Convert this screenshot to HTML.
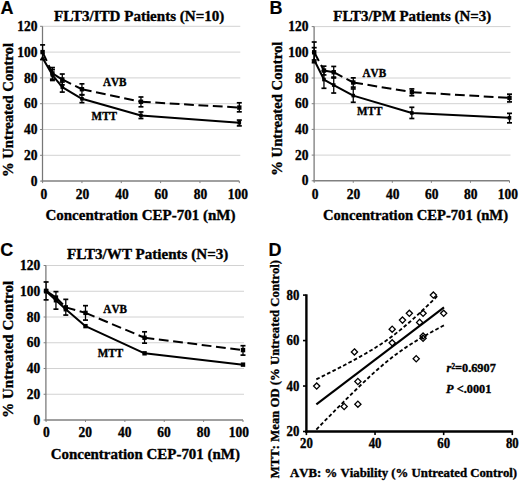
<!DOCTYPE html>
<html><head><meta charset="utf-8"><style>
html,body{margin:0;padding:0;background:#fff;width:520px;height:481px;overflow:hidden;}
svg{display:block;}
text{font-variant-ligatures:none;}
.nk{font-kerning:none;}
</style></head><body>
<svg width="520" height="481" viewBox="0 0 520 481">
<rect width="520" height="481" fill="#fff"/>
<line x1="42.60" y1="155.30" x2="240.30" y2="155.30" stroke="#d2d2d2" stroke-width="1" />
<line x1="42.60" y1="129.50" x2="240.30" y2="129.50" stroke="#d2d2d2" stroke-width="1" />
<line x1="42.60" y1="103.70" x2="240.30" y2="103.70" stroke="#d2d2d2" stroke-width="1" />
<line x1="42.60" y1="77.90" x2="240.30" y2="77.90" stroke="#d2d2d2" stroke-width="1" />
<line x1="42.60" y1="52.10" x2="240.30" y2="52.10" stroke="#d2d2d2" stroke-width="1" />
<line x1="42.60" y1="26.30" x2="240.30" y2="26.30" stroke="#d2d2d2" stroke-width="1" />
<line x1="42.50" y1="26.30" x2="42.50" y2="181.10" stroke="#777" stroke-width="1.25" />
<line x1="41.60" y1="181.10" x2="239.30" y2="181.10" stroke="#808080" stroke-width="1.5" />
<line x1="40.10" y1="181.10" x2="42.60" y2="181.10" stroke="#808080" stroke-width="1" />
<line x1="40.10" y1="155.30" x2="42.60" y2="155.30" stroke="#808080" stroke-width="1" />
<line x1="40.10" y1="129.50" x2="42.60" y2="129.50" stroke="#808080" stroke-width="1" />
<line x1="40.10" y1="103.70" x2="42.60" y2="103.70" stroke="#808080" stroke-width="1" />
<line x1="40.10" y1="77.90" x2="42.60" y2="77.90" stroke="#808080" stroke-width="1" />
<line x1="40.10" y1="52.10" x2="42.60" y2="52.10" stroke="#808080" stroke-width="1" />
<line x1="40.10" y1="26.30" x2="42.60" y2="26.30" stroke="#808080" stroke-width="1" />
<line x1="42.60" y1="181.10" x2="42.60" y2="183.10" stroke="#808080" stroke-width="1" />
<line x1="81.94" y1="181.10" x2="81.94" y2="183.10" stroke="#808080" stroke-width="1" />
<line x1="121.28" y1="181.10" x2="121.28" y2="183.10" stroke="#808080" stroke-width="1" />
<line x1="160.62" y1="181.10" x2="160.62" y2="183.10" stroke="#808080" stroke-width="1" />
<line x1="199.96" y1="181.10" x2="199.96" y2="183.10" stroke="#808080" stroke-width="1" />
<line x1="239.30" y1="181.10" x2="239.30" y2="183.10" stroke="#808080" stroke-width="1" />
<text transform="translate(37.60,185.70) scale(1.0,1.08)" font-family='"Liberation Serif", serif' font-size="13.5" font-weight="bold" font-style="normal" text-anchor="end" stroke="#000" stroke-width="0.35" >0</text>
<text transform="translate(37.60,159.90) scale(1.0,1.08)" font-family='"Liberation Serif", serif' font-size="13.5" font-weight="bold" font-style="normal" text-anchor="end" stroke="#000" stroke-width="0.35" >20</text>
<text transform="translate(37.60,134.10) scale(1.0,1.08)" font-family='"Liberation Serif", serif' font-size="13.5" font-weight="bold" font-style="normal" text-anchor="end" stroke="#000" stroke-width="0.35" >40</text>
<text transform="translate(37.60,108.30) scale(1.0,1.08)" font-family='"Liberation Serif", serif' font-size="13.5" font-weight="bold" font-style="normal" text-anchor="end" stroke="#000" stroke-width="0.35" >60</text>
<text transform="translate(37.60,82.50) scale(1.0,1.08)" font-family='"Liberation Serif", serif' font-size="13.5" font-weight="bold" font-style="normal" text-anchor="end" stroke="#000" stroke-width="0.35" >80</text>
<text transform="translate(37.60,56.70) scale(1.0,1.08)" font-family='"Liberation Serif", serif' font-size="13.5" font-weight="bold" font-style="normal" text-anchor="end" stroke="#000" stroke-width="0.35" >100</text>
<text transform="translate(37.60,30.90) scale(1.0,1.08)" font-family='"Liberation Serif", serif' font-size="13.5" font-weight="bold" font-style="normal" text-anchor="end" stroke="#000" stroke-width="0.35" >120</text>
<text transform="translate(43.80,199.10) scale(1.0,1.08)" font-family='"Liberation Serif", serif' font-size="13.5" font-weight="bold" font-style="normal" text-anchor="middle" stroke="#000" stroke-width="0.35" >0</text>
<text transform="translate(82.54,199.10) scale(1.0,1.08)" font-family='"Liberation Serif", serif' font-size="13.5" font-weight="bold" font-style="normal" text-anchor="middle" stroke="#000" stroke-width="0.35" >20</text>
<text transform="translate(121.88,199.10) scale(1.0,1.08)" font-family='"Liberation Serif", serif' font-size="13.5" font-weight="bold" font-style="normal" text-anchor="middle" stroke="#000" stroke-width="0.35" >40</text>
<text transform="translate(161.22,199.10) scale(1.0,1.08)" font-family='"Liberation Serif", serif' font-size="13.5" font-weight="bold" font-style="normal" text-anchor="middle" stroke="#000" stroke-width="0.35" >60</text>
<text transform="translate(200.56,199.10) scale(1.0,1.08)" font-family='"Liberation Serif", serif' font-size="13.5" font-weight="bold" font-style="normal" text-anchor="middle" stroke="#000" stroke-width="0.35" >80</text>
<text transform="translate(237.90,199.10) scale(1.0,1.08)" font-family='"Liberation Serif", serif' font-size="13.5" font-weight="bold" font-style="normal" text-anchor="middle" stroke="#000" stroke-width="0.35" >100</text>
<text transform="translate(54.10,20.60) scale(1.0,1.0)" font-family='"Liberation Serif", serif' font-size="15.05" font-weight="bold" font-style="normal" text-anchor="start" stroke="#000" stroke-width="0.35" >FLT3/ITD Patients (N=10)</text>
<text transform="translate(45.40,219.80) scale(1.0,1.0)" font-family='"Liberation Serif", serif' font-size="15" font-weight="bold" font-style="normal" text-anchor="start" stroke="#000" stroke-width="0.35" >Concentration CEP-701 (nM)</text>
<text transform="translate(12.50,177.10) rotate(-90) scale(1.0,0.95)" font-family='"Liberation Serif", serif' font-size="14.7" font-weight="bold" font-style="normal" text-anchor="start" stroke="#000" stroke-width="0.35" >% Untreated Control</text>
<text transform="translate(0.50,14.20) scale(1.0,1.03)" font-family='"Liberation Sans", sans-serif' font-size="18" font-weight="bold" font-style="normal" text-anchor="start" stroke="#000" stroke-width="0.15" >A</text>
<polyline points="42.60,57.91 52.44,75.06 62.27,87.06 81.94,98.80 140.95,115.44 239.30,122.79" fill="none" stroke="#000" stroke-width="2" stroke-linejoin="round" />
<line x1="42.60" y1="52.10" x2="52.44" y2="73.39" stroke="#000" stroke-width="2" stroke-dasharray="9.8 4.6"/>
<line x1="52.44" y1="73.39" x2="62.27" y2="79.45" stroke="#000" stroke-width="2" stroke-dasharray="9.8 4.6"/>
<line x1="62.27" y1="79.45" x2="81.94" y2="89.25" stroke="#000" stroke-width="2" stroke-dasharray="9.8 4.6"/>
<line x1="81.94" y1="89.25" x2="140.95" y2="101.77" stroke="#000" stroke-width="2" stroke-dasharray="9.8 4.6"/>
<line x1="140.95" y1="101.77" x2="239.30" y2="107.57" stroke="#000" stroke-width="2" stroke-dasharray="9.8 4.6"/>
<line x1="42.60" y1="44.88" x2="42.60" y2="59.58" stroke="#000" stroke-width="1.3" />
<line x1="40.10" y1="44.88" x2="45.10" y2="44.88" stroke="#000" stroke-width="1.7" />
<line x1="40.10" y1="59.58" x2="45.10" y2="59.58" stroke="#000" stroke-width="1.7" />
<line x1="52.44" y1="67.58" x2="52.44" y2="79.19" stroke="#000" stroke-width="1.3" />
<line x1="49.94" y1="67.58" x2="54.94" y2="67.58" stroke="#000" stroke-width="1.7" />
<line x1="49.94" y1="79.19" x2="54.94" y2="79.19" stroke="#000" stroke-width="1.7" />
<line x1="62.27" y1="74.03" x2="62.27" y2="84.87" stroke="#000" stroke-width="1.3" />
<line x1="59.77" y1="74.03" x2="64.77" y2="74.03" stroke="#000" stroke-width="1.7" />
<line x1="59.77" y1="84.87" x2="64.77" y2="84.87" stroke="#000" stroke-width="1.7" />
<line x1="81.94" y1="83.83" x2="81.94" y2="94.67" stroke="#000" stroke-width="1.3" />
<line x1="79.44" y1="83.83" x2="84.44" y2="83.83" stroke="#000" stroke-width="1.7" />
<line x1="79.44" y1="94.67" x2="84.44" y2="94.67" stroke="#000" stroke-width="1.7" />
<line x1="140.95" y1="96.99" x2="140.95" y2="106.80" stroke="#000" stroke-width="1.3" />
<line x1="138.45" y1="96.99" x2="143.45" y2="96.99" stroke="#000" stroke-width="1.7" />
<line x1="138.45" y1="106.80" x2="143.45" y2="106.80" stroke="#000" stroke-width="1.7" />
<line x1="239.30" y1="102.80" x2="239.30" y2="111.83" stroke="#000" stroke-width="1.3" />
<line x1="236.80" y1="102.80" x2="241.80" y2="102.80" stroke="#000" stroke-width="1.7" />
<line x1="236.80" y1="111.83" x2="241.80" y2="111.83" stroke="#000" stroke-width="1.7" />
<line x1="52.44" y1="69.64" x2="52.44" y2="80.48" stroke="#000" stroke-width="1.3" />
<line x1="49.94" y1="69.64" x2="54.94" y2="69.64" stroke="#000" stroke-width="1.7" />
<line x1="49.94" y1="80.48" x2="54.94" y2="80.48" stroke="#000" stroke-width="1.7" />
<line x1="62.27" y1="82.03" x2="62.27" y2="92.09" stroke="#000" stroke-width="1.3" />
<line x1="59.77" y1="82.03" x2="64.77" y2="82.03" stroke="#000" stroke-width="1.7" />
<line x1="59.77" y1="92.09" x2="64.77" y2="92.09" stroke="#000" stroke-width="1.7" />
<line x1="81.94" y1="94.93" x2="81.94" y2="102.67" stroke="#000" stroke-width="1.3" />
<line x1="79.44" y1="94.93" x2="84.44" y2="94.93" stroke="#000" stroke-width="1.7" />
<line x1="79.44" y1="102.67" x2="84.44" y2="102.67" stroke="#000" stroke-width="1.7" />
<line x1="140.95" y1="111.96" x2="140.95" y2="118.53" stroke="#000" stroke-width="1.3" />
<line x1="138.45" y1="111.96" x2="143.45" y2="111.96" stroke="#000" stroke-width="1.7" />
<line x1="138.45" y1="118.53" x2="143.45" y2="118.53" stroke="#000" stroke-width="1.7" />
<line x1="239.30" y1="120.08" x2="239.30" y2="125.89" stroke="#000" stroke-width="1.3" />
<line x1="236.80" y1="120.08" x2="241.80" y2="120.08" stroke="#000" stroke-width="1.7" />
<line x1="236.80" y1="125.89" x2="241.80" y2="125.89" stroke="#000" stroke-width="1.7" />
<rect x="40.40" y="49.90" width="4.4" height="4.4" fill="#000"/>
<rect x="50.23" y="71.19" width="4.4" height="4.4" fill="#000"/>
<rect x="60.07" y="77.25" width="4.4" height="4.4" fill="#000"/>
<rect x="79.74" y="87.05" width="4.4" height="4.4" fill="#000"/>
<rect x="138.75" y="99.56" width="4.4" height="4.4" fill="#000"/>
<rect x="237.10" y="105.37" width="4.4" height="4.4" fill="#000"/>
<path d="M42.60,55.31 L45.20,59.91 L40.00,59.91 Z" fill="#000"/>
<rect x="50.64" y="73.26" width="3.6" height="3.6" fill="#000"/>
<rect x="60.47" y="85.26" width="3.6" height="3.6" fill="#000"/>
<rect x="80.14" y="97.00" width="3.6" height="3.6" fill="#000"/>
<rect x="139.15" y="113.64" width="3.6" height="3.6" fill="#000"/>
<rect x="237.50" y="120.99" width="3.6" height="3.6" fill="#000"/>
<text transform="translate(102.90,85.90) scale(1.0,1.08)" font-family='"Liberation Serif", serif' font-size="11.2" font-weight="bold" font-style="normal" text-anchor="start" stroke="#000" stroke-width="0.35"  class="nk">AVB</text>
<text transform="translate(91.60,119.60) scale(1.0,1.08)" font-family='"Liberation Serif", serif' font-size="11.2" font-weight="bold" font-style="normal" text-anchor="start" stroke="#000" stroke-width="0.35"  class="nk">MTT</text>
<line x1="314.20" y1="155.10" x2="510.50" y2="155.10" stroke="#d2d2d2" stroke-width="1" />
<line x1="314.20" y1="129.40" x2="510.50" y2="129.40" stroke="#d2d2d2" stroke-width="1" />
<line x1="314.20" y1="103.70" x2="510.50" y2="103.70" stroke="#d2d2d2" stroke-width="1" />
<line x1="314.20" y1="78.00" x2="510.50" y2="78.00" stroke="#d2d2d2" stroke-width="1" />
<line x1="314.20" y1="52.30" x2="510.50" y2="52.30" stroke="#d2d2d2" stroke-width="1" />
<line x1="314.20" y1="26.60" x2="510.50" y2="26.60" stroke="#d2d2d2" stroke-width="1" />
<line x1="314.10" y1="26.60" x2="314.10" y2="180.80" stroke="#777" stroke-width="1.25" />
<line x1="313.20" y1="180.80" x2="509.50" y2="180.80" stroke="#808080" stroke-width="1.5" />
<line x1="311.70" y1="180.80" x2="314.20" y2="180.80" stroke="#808080" stroke-width="1" />
<line x1="311.70" y1="155.10" x2="314.20" y2="155.10" stroke="#808080" stroke-width="1" />
<line x1="311.70" y1="129.40" x2="314.20" y2="129.40" stroke="#808080" stroke-width="1" />
<line x1="311.70" y1="103.70" x2="314.20" y2="103.70" stroke="#808080" stroke-width="1" />
<line x1="311.70" y1="78.00" x2="314.20" y2="78.00" stroke="#808080" stroke-width="1" />
<line x1="311.70" y1="52.30" x2="314.20" y2="52.30" stroke="#808080" stroke-width="1" />
<line x1="311.70" y1="26.60" x2="314.20" y2="26.60" stroke="#808080" stroke-width="1" />
<line x1="314.20" y1="180.80" x2="314.20" y2="182.80" stroke="#808080" stroke-width="1" />
<line x1="353.26" y1="180.80" x2="353.26" y2="182.80" stroke="#808080" stroke-width="1" />
<line x1="392.32" y1="180.80" x2="392.32" y2="182.80" stroke="#808080" stroke-width="1" />
<line x1="431.38" y1="180.80" x2="431.38" y2="182.80" stroke="#808080" stroke-width="1" />
<line x1="470.44" y1="180.80" x2="470.44" y2="182.80" stroke="#808080" stroke-width="1" />
<line x1="509.50" y1="180.80" x2="509.50" y2="182.80" stroke="#808080" stroke-width="1" />
<text transform="translate(308.50,185.40) scale(1.0,1.08)" font-family='"Liberation Serif", serif' font-size="13.5" font-weight="bold" font-style="normal" text-anchor="end" stroke="#000" stroke-width="0.35" >0</text>
<text transform="translate(308.50,159.70) scale(1.0,1.08)" font-family='"Liberation Serif", serif' font-size="13.5" font-weight="bold" font-style="normal" text-anchor="end" stroke="#000" stroke-width="0.35" >20</text>
<text transform="translate(308.50,134.00) scale(1.0,1.08)" font-family='"Liberation Serif", serif' font-size="13.5" font-weight="bold" font-style="normal" text-anchor="end" stroke="#000" stroke-width="0.35" >40</text>
<text transform="translate(308.50,108.30) scale(1.0,1.08)" font-family='"Liberation Serif", serif' font-size="13.5" font-weight="bold" font-style="normal" text-anchor="end" stroke="#000" stroke-width="0.35" >60</text>
<text transform="translate(308.50,82.60) scale(1.0,1.08)" font-family='"Liberation Serif", serif' font-size="13.5" font-weight="bold" font-style="normal" text-anchor="end" stroke="#000" stroke-width="0.35" >80</text>
<text transform="translate(308.50,56.90) scale(1.0,1.08)" font-family='"Liberation Serif", serif' font-size="13.5" font-weight="bold" font-style="normal" text-anchor="end" stroke="#000" stroke-width="0.35" >100</text>
<text transform="translate(308.50,31.20) scale(1.0,1.08)" font-family='"Liberation Serif", serif' font-size="13.5" font-weight="bold" font-style="normal" text-anchor="end" stroke="#000" stroke-width="0.35" >120</text>
<text transform="translate(315.10,199.20) scale(1.0,1.08)" font-family='"Liberation Serif", serif' font-size="13.5" font-weight="bold" font-style="normal" text-anchor="middle" stroke="#000" stroke-width="0.35" >0</text>
<text transform="translate(353.56,199.20) scale(1.0,1.08)" font-family='"Liberation Serif", serif' font-size="13.5" font-weight="bold" font-style="normal" text-anchor="middle" stroke="#000" stroke-width="0.35" >20</text>
<text transform="translate(392.62,199.20) scale(1.0,1.08)" font-family='"Liberation Serif", serif' font-size="13.5" font-weight="bold" font-style="normal" text-anchor="middle" stroke="#000" stroke-width="0.35" >40</text>
<text transform="translate(431.68,199.20) scale(1.0,1.08)" font-family='"Liberation Serif", serif' font-size="13.5" font-weight="bold" font-style="normal" text-anchor="middle" stroke="#000" stroke-width="0.35" >60</text>
<text transform="translate(470.74,199.20) scale(1.0,1.08)" font-family='"Liberation Serif", serif' font-size="13.5" font-weight="bold" font-style="normal" text-anchor="middle" stroke="#000" stroke-width="0.35" >80</text>
<text transform="translate(507.90,199.20) scale(1.0,1.08)" font-family='"Liberation Serif", serif' font-size="13.5" font-weight="bold" font-style="normal" text-anchor="middle" stroke="#000" stroke-width="0.35" >100</text>
<text transform="translate(333.30,20.60) scale(1.0,1.0)" font-family='"Liberation Serif", serif' font-size="14.93" font-weight="bold" font-style="normal" text-anchor="start" stroke="#000" stroke-width="0.35" >FLT3/PM Patients (N=3)</text>
<text transform="translate(323.00,219.90) scale(1.0,1.0)" font-family='"Liberation Serif", serif' font-size="14.61" font-weight="bold" font-style="normal" text-anchor="start" stroke="#000" stroke-width="0.35" >Concentration CEP-701 (nM)</text>
<text transform="translate(282.40,175.80) rotate(-90) scale(1.0,0.95)" font-family='"Liberation Serif", serif' font-size="14.7" font-weight="bold" font-style="normal" text-anchor="start" stroke="#000" stroke-width="0.35" >% Untreated Control</text>
<text transform="translate(269.40,14.20) scale(1.0,1.03)" font-family='"Liberation Sans", sans-serif' font-size="18" font-weight="bold" font-style="normal" text-anchor="start" stroke="#000" stroke-width="0.15" >B</text>
<polyline points="314.20,60.01 323.96,79.54 333.73,85.07 353.26,95.60 411.85,112.95 509.50,117.84" fill="none" stroke="#000" stroke-width="2" stroke-linejoin="round" />
<line x1="314.20" y1="52.30" x2="323.96" y2="70.55" stroke="#000" stroke-width="2" stroke-dasharray="9.8 4.6"/>
<line x1="323.96" y1="70.55" x2="333.73" y2="72.22" stroke="#000" stroke-width="2" stroke-dasharray="9.8 4.6"/>
<line x1="333.73" y1="72.22" x2="353.26" y2="82.50" stroke="#000" stroke-width="2" stroke-dasharray="9.8 4.6"/>
<line x1="353.26" y1="82.50" x2="411.85" y2="92.14" stroke="#000" stroke-width="2" stroke-dasharray="9.8 4.6"/>
<line x1="411.85" y1="92.14" x2="509.50" y2="97.92" stroke="#000" stroke-width="2" stroke-dasharray="9.8 4.6"/>
<line x1="314.20" y1="42.02" x2="314.20" y2="62.71" stroke="#000" stroke-width="1.3" />
<line x1="311.70" y1="42.02" x2="316.70" y2="42.02" stroke="#000" stroke-width="1.7" />
<line x1="311.70" y1="62.71" x2="316.70" y2="62.71" stroke="#000" stroke-width="1.7" />
<line x1="323.96" y1="66.18" x2="323.96" y2="74.92" stroke="#000" stroke-width="1.3" />
<line x1="321.46" y1="66.18" x2="326.46" y2="66.18" stroke="#000" stroke-width="1.7" />
<line x1="321.46" y1="74.92" x2="326.46" y2="74.92" stroke="#000" stroke-width="1.7" />
<line x1="333.73" y1="66.44" x2="333.73" y2="78.00" stroke="#000" stroke-width="1.3" />
<line x1="331.23" y1="66.44" x2="336.23" y2="66.44" stroke="#000" stroke-width="1.7" />
<line x1="331.23" y1="78.00" x2="336.23" y2="78.00" stroke="#000" stroke-width="1.7" />
<line x1="353.26" y1="77.87" x2="353.26" y2="87.12" stroke="#000" stroke-width="1.3" />
<line x1="350.76" y1="77.87" x2="355.76" y2="77.87" stroke="#000" stroke-width="1.7" />
<line x1="350.76" y1="87.12" x2="355.76" y2="87.12" stroke="#000" stroke-width="1.7" />
<line x1="411.85" y1="88.92" x2="411.85" y2="95.73" stroke="#000" stroke-width="1.3" />
<line x1="409.35" y1="88.92" x2="414.35" y2="88.92" stroke="#000" stroke-width="1.7" />
<line x1="409.35" y1="95.73" x2="414.35" y2="95.73" stroke="#000" stroke-width="1.7" />
<line x1="509.50" y1="94.19" x2="509.50" y2="101.90" stroke="#000" stroke-width="1.3" />
<line x1="507.00" y1="94.19" x2="512.00" y2="94.19" stroke="#000" stroke-width="1.7" />
<line x1="507.00" y1="101.90" x2="512.00" y2="101.90" stroke="#000" stroke-width="1.7" />
<line x1="314.20" y1="47.67" x2="314.20" y2="60.01" stroke="#000" stroke-width="1.3" />
<line x1="311.70" y1="47.67" x2="316.70" y2="47.67" stroke="#000" stroke-width="1.7" />
<line x1="311.70" y1="60.01" x2="316.70" y2="60.01" stroke="#000" stroke-width="1.7" />
<line x1="323.96" y1="70.80" x2="323.96" y2="88.28" stroke="#000" stroke-width="1.3" />
<line x1="321.46" y1="70.80" x2="326.46" y2="70.80" stroke="#000" stroke-width="1.7" />
<line x1="321.46" y1="88.28" x2="326.46" y2="88.28" stroke="#000" stroke-width="1.7" />
<line x1="333.73" y1="77.10" x2="333.73" y2="93.03" stroke="#000" stroke-width="1.3" />
<line x1="331.23" y1="77.10" x2="336.23" y2="77.10" stroke="#000" stroke-width="1.7" />
<line x1="331.23" y1="93.03" x2="336.23" y2="93.03" stroke="#000" stroke-width="1.7" />
<line x1="353.26" y1="88.92" x2="353.26" y2="102.29" stroke="#000" stroke-width="1.3" />
<line x1="350.76" y1="88.92" x2="355.76" y2="88.92" stroke="#000" stroke-width="1.7" />
<line x1="350.76" y1="102.29" x2="355.76" y2="102.29" stroke="#000" stroke-width="1.7" />
<line x1="411.85" y1="107.30" x2="411.85" y2="118.48" stroke="#000" stroke-width="1.3" />
<line x1="409.35" y1="107.30" x2="414.35" y2="107.30" stroke="#000" stroke-width="1.7" />
<line x1="409.35" y1="118.48" x2="414.35" y2="118.48" stroke="#000" stroke-width="1.7" />
<line x1="509.50" y1="113.34" x2="509.50" y2="122.85" stroke="#000" stroke-width="1.3" />
<line x1="507.00" y1="113.34" x2="512.00" y2="113.34" stroke="#000" stroke-width="1.7" />
<line x1="507.00" y1="122.85" x2="512.00" y2="122.85" stroke="#000" stroke-width="1.7" />
<rect x="312.00" y="50.10" width="4.4" height="4.4" fill="#000"/>
<rect x="321.76" y="68.35" width="4.4" height="4.4" fill="#000"/>
<rect x="331.53" y="70.02" width="4.4" height="4.4" fill="#000"/>
<rect x="351.06" y="80.30" width="4.4" height="4.4" fill="#000"/>
<rect x="409.65" y="89.94" width="4.4" height="4.4" fill="#000"/>
<rect x="507.30" y="95.72" width="4.4" height="4.4" fill="#000"/>
<path d="M314.20,57.41 L316.80,62.01 L311.60,62.01 Z" fill="#000"/>
<rect x="322.16" y="77.74" width="3.6" height="3.6" fill="#000"/>
<rect x="331.93" y="83.27" width="3.6" height="3.6" fill="#000"/>
<rect x="351.46" y="93.80" width="3.6" height="3.6" fill="#000"/>
<rect x="410.05" y="111.15" width="3.6" height="3.6" fill="#000"/>
<rect x="507.70" y="116.04" width="3.6" height="3.6" fill="#000"/>
<text transform="translate(362.50,77.40) scale(1.0,1.08)" font-family='"Liberation Serif", serif' font-size="11.2" font-weight="bold" font-style="normal" text-anchor="start" stroke="#000" stroke-width="0.35"  class="nk">AVB</text>
<text transform="translate(356.90,114.90) scale(1.0,1.08)" font-family='"Liberation Serif", serif' font-size="11.2" font-weight="bold" font-style="normal" text-anchor="start" stroke="#000" stroke-width="0.35"  class="nk">MTT</text>
<line x1="46.10" y1="394.25" x2="244.00" y2="394.25" stroke="#d2d2d2" stroke-width="1" />
<line x1="46.10" y1="368.50" x2="244.00" y2="368.50" stroke="#d2d2d2" stroke-width="1" />
<line x1="46.10" y1="342.75" x2="244.00" y2="342.75" stroke="#d2d2d2" stroke-width="1" />
<line x1="46.10" y1="317.00" x2="244.00" y2="317.00" stroke="#d2d2d2" stroke-width="1" />
<line x1="46.10" y1="291.25" x2="244.00" y2="291.25" stroke="#d2d2d2" stroke-width="1" />
<line x1="46.10" y1="265.50" x2="244.00" y2="265.50" stroke="#d2d2d2" stroke-width="1" />
<line x1="45.90" y1="265.50" x2="45.90" y2="420.00" stroke="#777" stroke-width="1.25" />
<line x1="45.10" y1="420.00" x2="243.00" y2="420.00" stroke="#808080" stroke-width="1.5" />
<line x1="43.60" y1="420.00" x2="46.10" y2="420.00" stroke="#808080" stroke-width="1" />
<line x1="43.60" y1="394.25" x2="46.10" y2="394.25" stroke="#808080" stroke-width="1" />
<line x1="43.60" y1="368.50" x2="46.10" y2="368.50" stroke="#808080" stroke-width="1" />
<line x1="43.60" y1="342.75" x2="46.10" y2="342.75" stroke="#808080" stroke-width="1" />
<line x1="43.60" y1="317.00" x2="46.10" y2="317.00" stroke="#808080" stroke-width="1" />
<line x1="43.60" y1="291.25" x2="46.10" y2="291.25" stroke="#808080" stroke-width="1" />
<line x1="43.60" y1="265.50" x2="46.10" y2="265.50" stroke="#808080" stroke-width="1" />
<line x1="46.10" y1="420.00" x2="46.10" y2="422.00" stroke="#808080" stroke-width="1" />
<line x1="85.48" y1="420.00" x2="85.48" y2="422.00" stroke="#808080" stroke-width="1" />
<line x1="124.86" y1="420.00" x2="124.86" y2="422.00" stroke="#808080" stroke-width="1" />
<line x1="164.24" y1="420.00" x2="164.24" y2="422.00" stroke="#808080" stroke-width="1" />
<line x1="203.62" y1="420.00" x2="203.62" y2="422.00" stroke="#808080" stroke-width="1" />
<line x1="243.00" y1="420.00" x2="243.00" y2="422.00" stroke="#808080" stroke-width="1" />
<text transform="translate(40.20,424.60) scale(1.0,1.08)" font-family='"Liberation Serif", serif' font-size="13.5" font-weight="bold" font-style="normal" text-anchor="end" stroke="#000" stroke-width="0.35" >0</text>
<text transform="translate(40.20,398.85) scale(1.0,1.08)" font-family='"Liberation Serif", serif' font-size="13.5" font-weight="bold" font-style="normal" text-anchor="end" stroke="#000" stroke-width="0.35" >20</text>
<text transform="translate(40.20,373.10) scale(1.0,1.08)" font-family='"Liberation Serif", serif' font-size="13.5" font-weight="bold" font-style="normal" text-anchor="end" stroke="#000" stroke-width="0.35" >40</text>
<text transform="translate(40.20,347.35) scale(1.0,1.08)" font-family='"Liberation Serif", serif' font-size="13.5" font-weight="bold" font-style="normal" text-anchor="end" stroke="#000" stroke-width="0.35" >60</text>
<text transform="translate(40.20,321.60) scale(1.0,1.08)" font-family='"Liberation Serif", serif' font-size="13.5" font-weight="bold" font-style="normal" text-anchor="end" stroke="#000" stroke-width="0.35" >80</text>
<text transform="translate(40.20,295.85) scale(1.0,1.08)" font-family='"Liberation Serif", serif' font-size="13.5" font-weight="bold" font-style="normal" text-anchor="end" stroke="#000" stroke-width="0.35" >100</text>
<text transform="translate(40.20,270.10) scale(1.0,1.08)" font-family='"Liberation Serif", serif' font-size="13.5" font-weight="bold" font-style="normal" text-anchor="end" stroke="#000" stroke-width="0.35" >120</text>
<text transform="translate(46.40,437.20) scale(1.0,1.08)" font-family='"Liberation Serif", serif' font-size="13.5" font-weight="bold" font-style="normal" text-anchor="middle" stroke="#000" stroke-width="0.35" >0</text>
<text transform="translate(85.28,437.20) scale(1.0,1.08)" font-family='"Liberation Serif", serif' font-size="13.5" font-weight="bold" font-style="normal" text-anchor="middle" stroke="#000" stroke-width="0.35" >20</text>
<text transform="translate(124.66,437.20) scale(1.0,1.08)" font-family='"Liberation Serif", serif' font-size="13.5" font-weight="bold" font-style="normal" text-anchor="middle" stroke="#000" stroke-width="0.35" >40</text>
<text transform="translate(164.04,437.20) scale(1.0,1.08)" font-family='"Liberation Serif", serif' font-size="13.5" font-weight="bold" font-style="normal" text-anchor="middle" stroke="#000" stroke-width="0.35" >60</text>
<text transform="translate(203.42,437.20) scale(1.0,1.08)" font-family='"Liberation Serif", serif' font-size="13.5" font-weight="bold" font-style="normal" text-anchor="middle" stroke="#000" stroke-width="0.35" >80</text>
<text transform="translate(238.80,437.20) scale(1.0,1.08)" font-family='"Liberation Serif", serif' font-size="13.5" font-weight="bold" font-style="normal" text-anchor="middle" stroke="#000" stroke-width="0.35" >100</text>
<text transform="translate(67.10,258.70) scale(1.0,1.0)" font-family='"Liberation Serif", serif' font-size="15.1" font-weight="bold" font-style="normal" text-anchor="start" stroke="#000" stroke-width="0.35" >FLT3/WT Patients (N=3)</text>
<text transform="translate(50.70,459.00) scale(1.0,1.0)" font-family='"Liberation Serif", serif' font-size="14.95" font-weight="bold" font-style="normal" text-anchor="start" stroke="#000" stroke-width="0.35" >Concentration CEP-701 (nM)</text>
<text transform="translate(12.80,417.70) rotate(-90) scale(1.0,0.95)" font-family='"Liberation Serif", serif' font-size="15.0" font-weight="bold" font-style="normal" text-anchor="start" stroke="#000" stroke-width="0.35" >% Untreated Control</text>
<text transform="translate(0.30,255.70) scale(1.0,1.03)" font-family='"Liberation Sans", sans-serif' font-size="18" font-weight="bold" font-style="normal" text-anchor="start" stroke="#000" stroke-width="0.15" >C</text>
<polyline points="46.10,291.25 55.95,300.26 65.79,309.27 85.48,326.14 144.55,353.31 243.00,364.64" fill="none" stroke="#000" stroke-width="2" stroke-linejoin="round" />
<line x1="46.10" y1="290.86" x2="55.95" y2="297.56" stroke="#000" stroke-width="2" stroke-dasharray="9.8 4.6"/>
<line x1="55.95" y1="297.56" x2="65.79" y2="307.34" stroke="#000" stroke-width="2" stroke-dasharray="9.8 4.6"/>
<line x1="65.79" y1="307.34" x2="85.48" y2="312.88" stroke="#000" stroke-width="2" stroke-dasharray="9.8 4.6"/>
<line x1="85.48" y1="312.88" x2="144.55" y2="337.73" stroke="#000" stroke-width="2" stroke-dasharray="9.8 4.6"/>
<line x1="144.55" y1="337.73" x2="243.00" y2="350.09" stroke="#000" stroke-width="2" stroke-dasharray="9.8 4.6"/>
<line x1="46.10" y1="281.98" x2="46.10" y2="299.88" stroke="#000" stroke-width="1.3" />
<line x1="43.60" y1="281.98" x2="48.60" y2="281.98" stroke="#000" stroke-width="1.7" />
<line x1="43.60" y1="299.88" x2="48.60" y2="299.88" stroke="#000" stroke-width="1.7" />
<line x1="55.95" y1="291.64" x2="55.95" y2="309.15" stroke="#000" stroke-width="1.3" />
<line x1="53.45" y1="291.64" x2="58.45" y2="291.64" stroke="#000" stroke-width="1.7" />
<line x1="53.45" y1="309.15" x2="58.45" y2="309.15" stroke="#000" stroke-width="1.7" />
<line x1="65.79" y1="299.36" x2="65.79" y2="315.07" stroke="#000" stroke-width="1.3" />
<line x1="63.29" y1="299.36" x2="68.29" y2="299.36" stroke="#000" stroke-width="1.7" />
<line x1="63.29" y1="315.07" x2="68.29" y2="315.07" stroke="#000" stroke-width="1.7" />
<line x1="85.48" y1="305.67" x2="85.48" y2="320.09" stroke="#000" stroke-width="1.3" />
<line x1="82.98" y1="305.67" x2="87.98" y2="305.67" stroke="#000" stroke-width="1.7" />
<line x1="82.98" y1="320.09" x2="87.98" y2="320.09" stroke="#000" stroke-width="1.7" />
<line x1="144.55" y1="331.81" x2="144.55" y2="343.14" stroke="#000" stroke-width="1.3" />
<line x1="142.05" y1="331.81" x2="147.05" y2="331.81" stroke="#000" stroke-width="1.7" />
<line x1="142.05" y1="343.14" x2="147.05" y2="343.14" stroke="#000" stroke-width="1.7" />
<line x1="243.00" y1="345.71" x2="243.00" y2="355.11" stroke="#000" stroke-width="1.3" />
<line x1="240.50" y1="345.71" x2="245.50" y2="345.71" stroke="#000" stroke-width="1.7" />
<line x1="240.50" y1="355.11" x2="245.50" y2="355.11" stroke="#000" stroke-width="1.7" />
<rect x="43.90" y="288.66" width="4.4" height="4.4" fill="#000"/>
<rect x="53.74" y="295.36" width="4.4" height="4.4" fill="#000"/>
<rect x="63.59" y="305.14" width="4.4" height="4.4" fill="#000"/>
<rect x="83.28" y="310.68" width="4.4" height="4.4" fill="#000"/>
<rect x="142.35" y="335.53" width="4.4" height="4.4" fill="#000"/>
<rect x="240.80" y="347.89" width="4.4" height="4.4" fill="#000"/>
<rect x="43.90" y="289.05" width="4.4" height="4.4" fill="#000"/>
<rect x="53.74" y="298.06" width="4.4" height="4.4" fill="#000"/>
<rect x="63.59" y="307.07" width="4.4" height="4.4" fill="#000"/>
<rect x="83.28" y="323.94" width="4.4" height="4.4" fill="#000"/>
<rect x="142.35" y="351.11" width="4.4" height="4.4" fill="#000"/>
<rect x="240.80" y="362.44" width="4.4" height="4.4" fill="#000"/>
<text transform="translate(103.30,313.40) scale(1.0,1.08)" font-family='"Liberation Serif", serif' font-size="11.2" font-weight="bold" font-style="normal" text-anchor="start" stroke="#000" stroke-width="0.35"  class="nk">AVB</text>
<text transform="translate(97.80,356.50) scale(1.0,1.08)" font-family='"Liberation Serif", serif' font-size="11.2" font-weight="bold" font-style="normal" text-anchor="start" stroke="#000" stroke-width="0.35"  class="nk">MTT</text>
<line x1="306.40" y1="294.30" x2="306.40" y2="432.70" stroke="#000" stroke-width="2.4" />
<line x1="305.20" y1="431.50" x2="513.10" y2="431.50" stroke="#000" stroke-width="2.4" />
<line x1="303.00" y1="431.50" x2="306.40" y2="431.50" stroke="#000" stroke-width="1.6" />
<line x1="306.40" y1="431.50" x2="306.40" y2="435.10" stroke="#000" stroke-width="1.6" />
<line x1="303.00" y1="386.03" x2="306.40" y2="386.03" stroke="#000" stroke-width="1.6" />
<line x1="375.03" y1="431.50" x2="375.03" y2="435.10" stroke="#000" stroke-width="1.6" />
<line x1="303.00" y1="340.57" x2="306.40" y2="340.57" stroke="#000" stroke-width="1.6" />
<line x1="443.67" y1="431.50" x2="443.67" y2="435.10" stroke="#000" stroke-width="1.6" />
<line x1="303.00" y1="295.10" x2="306.40" y2="295.10" stroke="#000" stroke-width="1.6" />
<line x1="512.30" y1="431.50" x2="512.30" y2="435.10" stroke="#000" stroke-width="1.6" />
<text transform="translate(299.40,436.30) scale(1.0,1.1)" font-family='"Liberation Serif", serif' font-size="12.8" font-weight="bold" font-style="normal" text-anchor="end" stroke="#000" stroke-width="0.35" >20</text>
<text transform="translate(306.40,447.60) scale(1.0,1.1)" font-family='"Liberation Serif", serif' font-size="12.8" font-weight="bold" font-style="normal" text-anchor="middle" stroke="#000" stroke-width="0.35" >20</text>
<text transform="translate(299.40,390.83) scale(1.0,1.1)" font-family='"Liberation Serif", serif' font-size="12.8" font-weight="bold" font-style="normal" text-anchor="end" stroke="#000" stroke-width="0.35" >40</text>
<text transform="translate(375.03,447.60) scale(1.0,1.1)" font-family='"Liberation Serif", serif' font-size="12.8" font-weight="bold" font-style="normal" text-anchor="middle" stroke="#000" stroke-width="0.35" >40</text>
<text transform="translate(299.40,345.37) scale(1.0,1.1)" font-family='"Liberation Serif", serif' font-size="12.8" font-weight="bold" font-style="normal" text-anchor="end" stroke="#000" stroke-width="0.35" >60</text>
<text transform="translate(443.67,447.60) scale(1.0,1.1)" font-family='"Liberation Serif", serif' font-size="12.8" font-weight="bold" font-style="normal" text-anchor="middle" stroke="#000" stroke-width="0.35" >60</text>
<text transform="translate(299.40,299.90) scale(1.0,1.1)" font-family='"Liberation Serif", serif' font-size="12.8" font-weight="bold" font-style="normal" text-anchor="end" stroke="#000" stroke-width="0.35" >80</text>
<text transform="translate(512.30,447.60) scale(1.0,1.1)" font-family='"Liberation Serif", serif' font-size="12.8" font-weight="bold" font-style="normal" text-anchor="middle" stroke="#000" stroke-width="0.35" >80</text>
<path d="M316.69,382.93 L319.80,386.03 L316.69,389.13 L313.59,386.03 Z" fill="none" stroke="#000" stroke-width="1.3"/>
<path d="M354.44,348.83 L357.54,351.93 L354.44,355.03 L351.34,351.93 Z" fill="none" stroke="#000" stroke-width="1.3"/>
<path d="M357.88,378.39 L360.98,381.49 L357.88,384.59 L354.77,381.49 Z" fill="none" stroke="#000" stroke-width="1.3"/>
<path d="M344.15,403.39 L347.25,406.49 L344.15,409.59 L341.05,406.49 Z" fill="none" stroke="#000" stroke-width="1.3"/>
<path d="M357.88,401.12 L360.98,404.22 L357.88,407.32 L354.77,404.22 Z" fill="none" stroke="#000" stroke-width="1.3"/>
<path d="M392.19,326.10 L395.29,329.20 L392.19,332.30 L389.09,329.20 Z" fill="none" stroke="#000" stroke-width="1.3"/>
<path d="M392.19,339.74 L395.29,342.84 L392.19,345.94 L389.09,342.84 Z" fill="none" stroke="#000" stroke-width="1.3"/>
<path d="M402.49,317.01 L405.59,320.11 L402.49,323.21 L399.39,320.11 Z" fill="none" stroke="#000" stroke-width="1.3"/>
<path d="M409.35,310.19 L412.45,313.29 L409.35,316.39 L406.25,313.29 Z" fill="none" stroke="#000" stroke-width="1.3"/>
<path d="M423.08,310.19 L426.18,313.29 L423.08,316.39 L419.98,313.29 Z" fill="none" stroke="#000" stroke-width="1.3"/>
<path d="M419.64,319.28 L422.75,322.38 L419.64,325.48 L416.54,322.38 Z" fill="none" stroke="#000" stroke-width="1.3"/>
<path d="M433.37,292.00 L436.47,295.10 L433.37,298.20 L430.27,295.10 Z" fill="none" stroke="#000" stroke-width="1.3"/>
<path d="M443.67,310.19 L446.77,313.29 L443.67,316.39 L440.57,313.29 Z" fill="none" stroke="#000" stroke-width="1.3"/>
<path d="M423.08,332.92 L426.18,336.02 L423.08,339.12 L419.98,336.02 Z" fill="none" stroke="#000" stroke-width="1.3"/>
<path d="M423.08,335.19 L426.18,338.29 L423.08,341.39 L419.98,338.29 Z" fill="none" stroke="#000" stroke-width="1.3"/>
<path d="M416.21,355.65 L419.31,358.75 L416.21,361.85 L413.11,358.75 Z" fill="none" stroke="#000" stroke-width="1.3"/>
<line x1="316.35" y1="404.45" x2="444.01" y2="307.36" stroke="#000" stroke-width="2.1" />
<polyline points="316.35,379.35 317.72,378.67 319.10,377.99 320.47,377.30 321.84,376.62 323.22,375.93 324.59,375.25 325.96,374.56 327.33,373.87 328.71,373.18 330.08,372.49 331.45,371.79 332.82,371.10 334.20,370.40 335.57,369.70 336.94,369.00 338.31,368.29 339.69,367.58 341.06,366.87 342.43,366.16 343.81,365.45 345.18,364.73 346.55,364.01 347.92,363.28 349.30,362.55 350.67,361.82 352.04,361.09 353.41,360.35 354.79,359.60 356.16,358.85 357.53,358.10 358.90,357.34 360.28,356.57 361.65,355.80 363.02,355.02 364.40,354.24 365.77,353.45 367.14,352.65 368.51,351.85 369.89,351.03 371.26,350.21 372.63,349.38 374.00,348.53 375.38,347.68 376.75,346.82 378.12,345.95 379.49,345.06 380.87,344.16 382.24,343.25 383.61,342.33 384.99,341.39 386.36,340.44 387.73,339.48 389.10,338.50 390.48,337.50 391.85,336.49 393.22,335.47 394.59,334.43 395.97,333.37 397.34,332.30 398.71,331.22 400.08,330.12 401.46,329.00 402.83,327.87 404.20,326.73 405.58,325.57 406.95,324.40 408.32,323.21 409.69,322.02 411.07,320.81 412.44,319.59 413.81,318.36 415.18,317.12 416.56,315.87 417.93,314.61 419.30,313.34 420.67,312.06 422.05,310.77 423.42,309.48 424.79,308.18 426.17,306.87 427.54,305.56 428.91,304.24 430.28,302.91 431.66,301.58 433.03,300.25 434.40,298.90 435.77,297.56 437.15,296.21 438.52,294.86" fill="none" stroke="#000" stroke-width="1.85" stroke-linejoin="round" stroke-dasharray="3.7 2.3"/>
<polyline points="316.35,429.55 317.72,428.14 319.10,426.73 320.47,425.33 321.84,423.92 323.22,422.52 324.59,421.12 325.96,419.72 327.33,418.32 328.71,416.92 330.08,415.53 331.45,414.13 332.82,412.74 334.20,411.35 335.57,409.97 336.94,408.58 338.31,407.20 339.69,405.82 341.06,404.44 342.43,403.06 343.81,401.69 345.18,400.32 346.55,398.96 347.92,397.59 349.30,396.23 350.67,394.88 352.04,393.53 353.41,392.18 354.79,390.83 356.16,389.50 357.53,388.16 358.90,386.83 360.28,385.51 361.65,384.19 363.02,382.88 364.40,381.58 365.77,380.28 367.14,378.99 368.51,377.71 369.89,376.44 371.26,375.17 372.63,373.92 374.00,372.67 375.38,371.44 376.75,370.21 378.12,369.00 379.49,367.79 380.87,366.60 382.24,365.43 383.61,364.26 384.99,363.11 386.36,361.97 387.73,360.85 389.10,359.74 390.48,358.65 391.85,357.57 393.22,356.51 394.59,355.46 395.97,354.43 397.34,353.41 398.71,352.41 400.08,351.42 401.46,350.45 402.83,349.49 404.20,348.55 405.58,347.62 406.95,346.70 408.32,345.80 409.69,344.91 411.07,344.03 412.44,343.16 413.81,342.30 415.18,341.45 416.56,340.62 417.93,339.79 419.30,338.97 420.67,338.16 422.05,337.36 423.42,336.56 424.79,335.78 426.17,335.00 427.54,334.22 428.91,333.45 430.28,332.69 431.66,331.94 433.03,331.18 434.40,330.44 435.77,329.69 437.15,328.96 438.52,328.22 439.89,327.49 441.26,326.77 442.64,326.04 444.01,325.32" fill="none" stroke="#000" stroke-width="1.85" stroke-linejoin="round" stroke-dasharray="3.7 2.3"/>
<text transform="translate(446.60,372.20) scale(1.0,1.0)" font-family='"Liberation Serif", serif' font-size="12.3" font-weight="bold" font-style="normal" text-anchor="start" stroke="#000" stroke-width="0.35" ><tspan font-style="italic">r</tspan><tspan font-size="7.2" dy="-3.6">2</tspan><tspan dy="3.6">=0.6907</tspan></text>
<text transform="translate(446.10,392.60) scale(1.0,1.0)" font-family='"Liberation Serif", serif' font-size="12.3" font-weight="bold" font-style="normal" text-anchor="start" stroke="#000" stroke-width="0.35" ><tspan font-style="italic">P</tspan><tspan> &lt;.0001</tspan></text>
<text transform="translate(290.00,476.60) scale(1.0,1.0)" font-family='"Liberation Serif", serif' font-size="12.8" font-weight="bold" font-style="normal" text-anchor="start" stroke="#000" stroke-width="0.35"  class="nk">AVB: % Viability (% Untreated Control)</text>
<text transform="translate(278.50,478.20) rotate(-90) scale(1.0,0.96)" font-family='"Liberation Serif", serif' font-size="12.75" font-weight="bold" font-style="normal" text-anchor="start" stroke="#000" stroke-width="0.35"  class="nk">MTT: Mean OD (% Untreated Control)</text>
<text transform="translate(268.50,255.90) scale(1.0,1.03)" font-family='"Liberation Sans", sans-serif' font-size="18" font-weight="bold" font-style="normal" text-anchor="start" stroke="#000" stroke-width="0.15" >D</text>
</svg>
</body></html>
